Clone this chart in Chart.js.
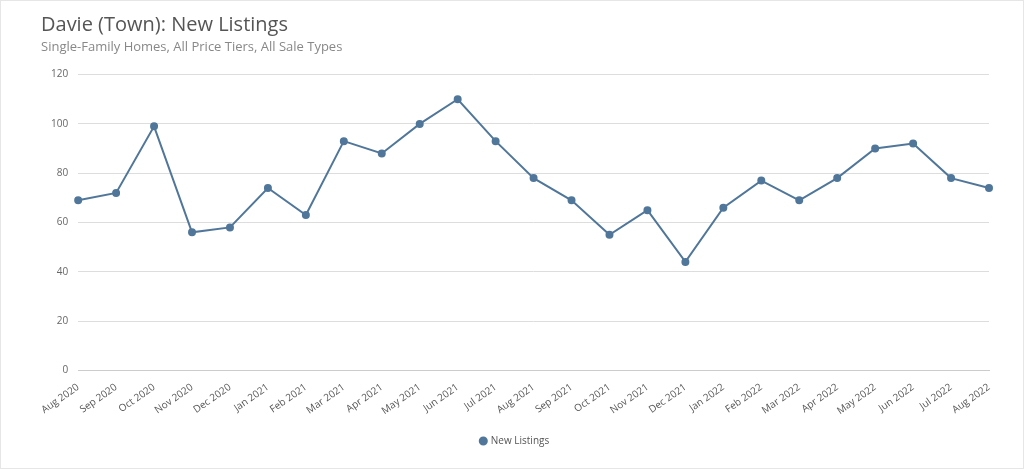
<!DOCTYPE html>
<html><head><meta charset="utf-8">
<script src="https://cdn.jsdelivr.net/npm/chart.js@4"></script>
<style>html,body{margin:0;padding:0;background:#fff}#w{position:relative;width:1022px;height:467px;border:1px solid #e6e6e6}</style>
</head><body><div id="w"><canvas id="c"></canvas></div>
<script>
const categories=["Aug 2020","Sep 2020","Oct 2020","Nov 2020","Dec 2020","Jan 2021","Feb 2021","Mar 2021","Apr 2021","May 2021","Jun 2021","Jul 2021","Aug 2021","Sep 2021","Oct 2021","Nov 2021","Dec 2021","Jan 2022","Feb 2022","Mar 2022","Apr 2022","May 2022","Jun 2022","Jul 2022","Aug 2022"];
const newListings=[69,72,99,56,58,74,63,93,88,100,110,93,78,69,55,65,44,66,77,69,78,90,92,78,74];
const titleText="Davie (Town): New Listings";
const subtitleText="Single-Family Homes, All Price Tiers, All Sale Types";
const color="#50779a";
new Chart(document.getElementById('c'),{type:'line',
data:{labels:categories,datasets:[{label:'New Listings',data:newListings,borderColor:color,backgroundColor:color,borderWidth:2,pointRadius:3,pointHoverRadius:3,tension:0}]},
options:{responsive:true,maintainAspectRatio:false,animation:false,
layout:{padding:{left:40,right:34,top:12,bottom:12}},
plugins:{
title:{display:true,text:titleText,align:'start',color:'#555',font:{family:'Open Sans',size:20,weight:'normal'},padding:{top:0,bottom:2}},
subtitle:{display:true,text:subtitleText,align:'start',color:'#888',font:{family:'Open Sans',size:13},padding:{bottom:20}},
legend:{position:'bottom',labels:{usePointStyle:true,boxWidth:5,boxHeight:5,color:'#555',font:{family:'Open Sans',size:10},padding:16}},
tooltip:{enabled:false}},
scales:{
y:{min:0,max:120,ticks:{stepSize:20,color:'#666',font:{family:'Open Sans',size:10},padding:10},grid:{color:'#dddddd',drawTicks:false},border:{display:false}},
x:{offset:false,ticks:{color:'#555',font:{family:'Open Sans',size:10},maxRotation:35,minRotation:35,autoSkip:false},grid:{display:false},border:{color:'#ccc'}}
}}});
</script></body></html>
